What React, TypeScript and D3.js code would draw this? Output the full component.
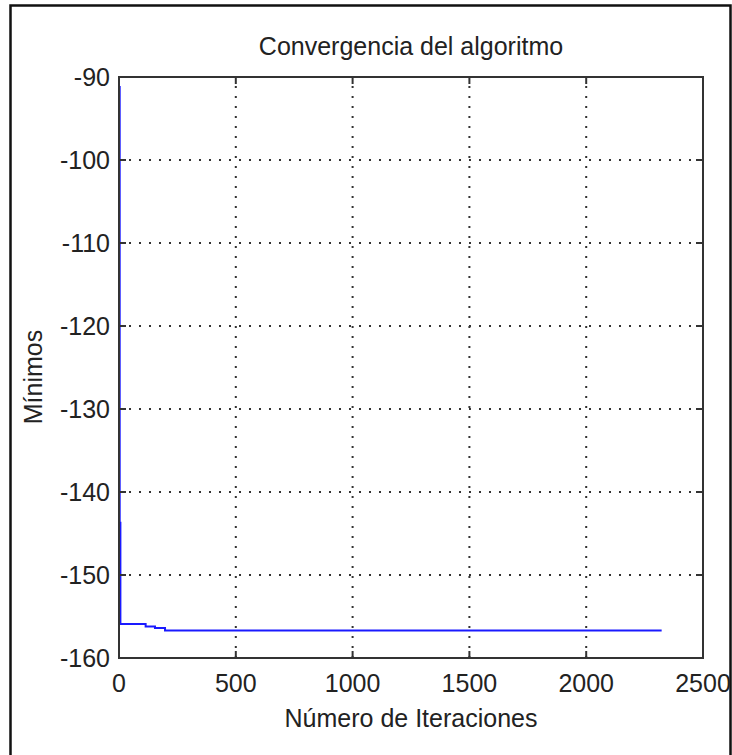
import { useRef, useEffect } from "react";
import * as d3 from "d3";

const iterations = [1, 3, 6, 114, 154, 197, 2323];
const minimos = [-91.2, -143.7, -155.9, -156.2, -156.4, -156.7, -156.7];
const xTicks = [0, 500, 1000, 1500, 2000, 2500];
const yTicks = [-90, -100, -110, -120, -130, -140, -150, -160];

const W = 732;
const H = 755;
const margin = { left: 119, top: 77, right: 703, bottom: 658 };
const font = "'Liberation Sans', Arial, sans-serif";

export default function App() {
  const svgRef = useRef<SVGSVGElement>(null);

  useEffect(() => {
    if (!svgRef.current) return;
    const svg = d3.select(svgRef.current);
    svg.selectAll("*").remove();

    const x = d3.scaleLinear().domain([0, 2500]).range([margin.left, margin.right]);
    const y = d3.scaleLinear().domain([-160, -90]).range([margin.bottom, margin.top]);

    svg.append("rect").attr("width", W).attr("height", H).attr("fill", "#fff");

    // outer figure frame
    svg
      .append("rect")
      .attr("x", 10.5)
      .attr("y", 5.5)
      .attr("width", 720)
      .attr("height", H + 20)
      .attr("fill", "none")
      .attr("stroke", "#111")
      .attr("stroke-width", 2.5);

    // dotted grid
    const grid = svg
      .append("g")
      .attr("stroke", "#333")
      .attr("stroke-width", 2)
      .attr("stroke-dasharray", "2,8");
    xTicks.slice(1, -1).forEach((t) => {
      grid
        .append("line")
        .attr("x1", x(t))
        .attr("x2", x(t))
        .attr("y1", margin.bottom)
        .attr("y2", margin.top);
    });
    yTicks.slice(1, -1).forEach((t) => {
      grid
        .append("line")
        .attr("x1", margin.left)
        .attr("x2", margin.right)
        .attr("y1", y(t))
        .attr("y2", y(t));
    });

    // data line
    const line = d3
      .line<number>()
      .x((_, i) => x(iterations[i]))
      .y((d) => y(d))
      .curve(d3.curveStepAfter);
    svg
      .append("path")
      .attr("d", line(minimos))
      .attr("fill", "none")
      .attr("stroke", "#1a1aff")
      .attr("stroke-width", 2);

    // axes box
    svg
      .append("rect")
      .attr("x", margin.left)
      .attr("y", margin.top)
      .attr("width", margin.right - margin.left)
      .attr("height", margin.bottom - margin.top)
      .attr("fill", "none")
      .attr("stroke", "#333")
      .attr("stroke-width", 2);

    // ticks (inside)
    const ticks = svg.append("g").attr("stroke", "#333").attr("stroke-width", 2);
    xTicks.forEach((t) => {
      ticks.append("line").attr("x1", x(t)).attr("x2", x(t)).attr("y1", margin.bottom).attr("y2", margin.bottom - 7);
      ticks.append("line").attr("x1", x(t)).attr("x2", x(t)).attr("y1", margin.top).attr("y2", margin.top + 7);
    });
    yTicks.forEach((t) => {
      ticks.append("line").attr("x1", margin.left).attr("x2", margin.left + 7).attr("y1", y(t)).attr("y2", y(t));
      ticks.append("line").attr("x1", margin.right).attr("x2", margin.right - 7).attr("y1", y(t)).attr("y2", y(t));
    });

    const labels = svg.append("g").attr("font-family", font).attr("fill", "#222").attr("font-size", 25);
    xTicks.forEach((t) => {
      labels
        .append("text")
        .attr("x", x(t))
        .attr("y", 692)
        .attr("text-anchor", "middle")
        .text(String(t));
    });
    yTicks.forEach((t) => {
      labels
        .append("text")
        .attr("x", 110)
        .attr("y", y(t) + 9)
        .attr("text-anchor", "end")
        .text(String(t));
    });

    labels
      .append("text")
      .attr("x", (margin.left + margin.right) / 2)
      .attr("y", 55)
      .attr("text-anchor", "middle")
      .text("Convergencia del algoritmo");

    labels
      .append("text")
      .attr("x", (margin.left + margin.right) / 2)
      .attr("y", 727)
      .attr("text-anchor", "middle")
      .text("Número de Iteraciones");

    labels
      .append("text")
      .attr("transform", `translate(42,377) rotate(-90)`)
      .attr("text-anchor", "middle")
      .text("Mínimos");
  }, []);

  return (
    <svg
      ref={svgRef}
      width={W}
      height={H}
      style={{ position: "absolute", left: 0, top: 0 }}
    />
  );
}
